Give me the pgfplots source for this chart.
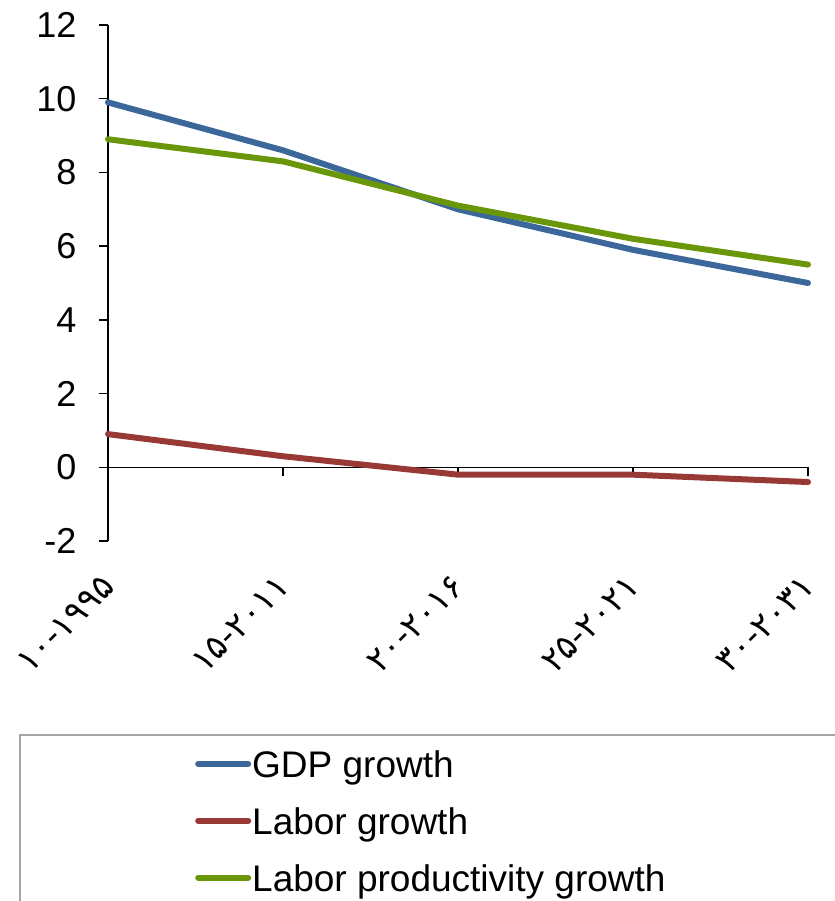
\documentclass[border=0pt]{standalone}
\usepackage{fontspec}
\setmainfont{Liberation Sans}
\newfontfamily\arabicfont[Script=Arabic]{DejaVu Sans}
\usepackage{pgfplots}
\pgfplotsset{compat=1.18}
\definecolor{gdp}{RGB}{59,103,155}
\definecolor{lab}{RGB}{152,57,53}
\definecolor{prod}{RGB}{106,150,10}
\newcommand{\pl}[3]{\hbox{#1}\hbox{-}\hbox{#2}}
\begin{document}
\begin{tikzpicture}
\useasboundingbox (0,0) rectangle (835bp,-901bp);
\begin{axis}[
 at={(108bp,-541bp)}, anchor=south west,
 scale only axis, width=700bp, height=516bp,
 xmin=0, xmax=4, ymin=-2, ymax=12,
 axis x line*=middle, axis y line*=left,
 hide obscured x ticks=false,
 axis line style={line width=1.5bp, black},
 tick align=outside, major tick length=9bp,
 tick style={line width=1.5bp, black},
 xtick={0,1,2,3,4},
 xticklabels={{\pl{۱۰}{۱۹۹۵}{}},{\pl{۱۵}{۲۰۱۱}{}},{\pl{۲۰}{۲۰۱۶}{}},{\pl{۲۵}{۲۰۲۱}{}},{\pl{۳۰}{۲۰۳۱}{}}},
 ytick={-2,0,2,4,6,8,10,12},
 /pgf/number format/assume math mode=true,
 yticklabel style={font=\fontsize{36bp}{42bp}\selectfont, xshift=-19bp},
 xticklabel style={font=\arabicfont\fontsize{34bp}{40bp}\selectfont, yshift=-102bp, xshift=3bp, rotate=45, anchor=east},
 legend style={draw=none, fill=none, inner sep=0pt,
   at={(axis description cs:0.12429,-0.3973)}, anchor=north west,
   font=\fontsize{37bp}{43bp}\selectfont, row sep=22bp,
   nodes={inner xsep=1bp, inner ysep=0pt, text height=31bp, text depth=4bp}},
 legend cell align=left,
 legend image code/.code={\draw (2bp,0bp) -- (52bp,0bp);},
 every axis plot/.append style={line width=6bp, line join=round, line cap=round},
 clip=false,
]
\addplot[gdp] coordinates {(0,9.9) (1,8.6) (2,7.0) (3,5.9) (4,5.0)};
\addlegendentry{GDP growth}
\addplot[lab] coordinates {(0,0.9) (1,0.3) (2,-0.2) (3,-0.2) (4,-0.4)};
\addlegendentry{Labor growth}
\addplot[prod] coordinates {(0,8.9) (1,8.3) (2,7.1) (3,6.2) (4,5.5)};
\addlegendentry{Labor productivity growth}
\end{axis}
\draw[black!35, line width=1.5bp] (20bp,-1000bp) -- (20bp,-735bp) -- (1000bp,-735bp);
\end{tikzpicture}
\end{document}
